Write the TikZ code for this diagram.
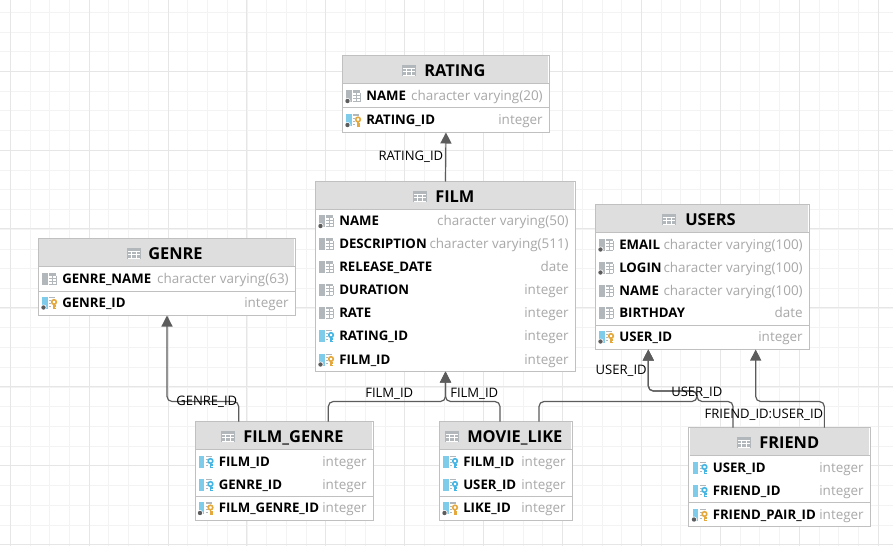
\documentclass[tikz,border=0pt]{standalone}
\usepackage{fontspec}
\setmainfont{Open Sans}
\usetikzlibrary{arrows.meta}
\def\px{0.75pt}
\definecolor{gridminor}{HTML}{F3F3F3}
\definecolor{gridmajor}{HTML}{E6E6E6}
\definecolor{boxline}{HTML}{C0C0C0}
\definecolor{headfill}{HTML}{DEDEDE}
\definecolor{linkline}{HTML}{5C5C5C}
\definecolor{typetext}{HTML}{A8A8A8}
\definecolor{iconbar}{HTML}{B2B7BC}
\definecolor{keyblue}{HTML}{45B5E3}
\definecolor{barblue}{HTML}{7FCBEA}
\definecolor{keyorange}{HTML}{E5A83C}
\tikzset{
  tablebox/.style={draw=boxline, line width=1*\px, fill=white, anchor=north west, inner sep=0pt, outer sep=0pt},
  headbox/.style={fill=headfill, anchor=north west, inner sep=0pt, outer sep=0pt},
  rowsep/.style={draw=boxline, line width=1*\px},
  title/.style={font=\fontsize{12.3}{14}\selectfont\bfseries, anchor=west, inner sep=0pt, text height=9*\px, text depth=0pt},
  colname/.style={font=\fontsize{9.9}{12}\selectfont\bfseries, anchor=west, inner sep=0pt, text height=9*\px, text depth=0pt},
  coltype/.style={font=\fontsize{10.1}{12}\selectfont, text=typetext, anchor=east, inner sep=0pt, text height=9*\px, text depth=0pt},
  linklabel/.style={font=\fontsize{9.8}{11}\selectfont, inner sep=0pt, text height=8.5*\px, text depth=0pt},
  fklink/.style={draw=linkline, line width=1.2*\px, rounded corners=5*\px, -{Triangle[width=11*\px,length=11*\px]}},
  pics/tableicon/.style={code={
    \fill[iconbar] (0,-5.5) rectangle (14,5.5);
    \foreach \gx in {4.5,9.5} \draw[white, line width=0.8*\px] (\gx,-2) -- (\gx,5);
    \foreach \gy in {-2,1.5} \draw[white, line width=0.8*\px] (0.7,\gy) -- (13.3,\gy);
    \fill[white] (0.7,4.6) rectangle (13.3,5);
  }},
  pics/colplain/.style={code={
    \fill[iconbar] (0,-6) rectangle (6,6);
    \fill[iconbar] (7,-6) rectangle (14,-3.5);
    \foreach \gy in {-1,2,5.5} \draw[iconbar, line width=0.8*\px] (7,\gy) -- (14,\gy);
    \draw[iconbar, line width=0.8*\px] (10.5,-3.5) -- (10.5,5.5) (14,-3.5) -- (14,5.5);
  }},
  pics/coldot/.style={code={
    \pic {colplain};
    \fill[white] (1.5,5) circle[radius=3];
    \fill[linkline] (1.5,5) circle[radius=2.2];
  }},
  pics/keyshape/.style={code={
    \fill[iconbar] (7,-6) rectangle (13,-4.5);
    \foreach \gy in {-2,1,4} \draw[iconbar, line width=0.8*\px] (7,\gy) -- (9,\gy);
    \draw[#1, line width=1.6*\px] (12,-0.5) circle[radius=2.3];
    \draw[#1, line width=1.7*\px] (12,1.8) -- (12,6.5) (12,3.8) -- (14,3.8) (12,6) -- (14,6);
  }},
  pics/fkey/.style={code={
    \fill[barblue] (0,-6) rectangle (5.5,6);
    \pic {keyshape=keyblue};
  }},
  pics/pkey/.style={code={
    \fill[barblue] (0,-6) rectangle (5.5,6);
    \pic {keyshape=keyorange};
    \fill[white] (1.5,5) circle[radius=3];
    \fill[linkline] (1.5,5) circle[radius=2.2];
  }},
}
\begin{document}
\begin{tikzpicture}[x=0.75pt,y=-0.75pt]
\useasboundingbox (0,0) rectangle (893,546);
\fill[white] (0,0) rectangle (893,546);

% grid
\foreach \k in {0,...,44} {
  \draw[gridminor, line width=1*\px] ({floor(10.3+19.725*\k)+0.5},0) -- ({floor(10.3+19.725*\k)+0.5},546);
}
\foreach \k in {0,...,27} {
  \draw[gridminor, line width=1*\px] (0,{floor(12.3+19.725*\k)+0.5}) -- (893,{floor(12.3+19.725*\k)+0.5});
}
\foreach \k in {0,...,11} {
  \draw[gridmajor, line width=1*\px] ({floor(10.3+78.9*\k)+0.5},0) -- ({floor(10.3+78.9*\k)+0.5},546);
}
\foreach \k in {0,...,6} {
  \draw[gridmajor, line width=1*\px] (0,{floor(71.2+78.9*\k)+0.5}) -- (893,{floor(71.2+78.9*\k)+0.5});
}

% tables
\node (rating) [tablebox, minimum width=207*\px, minimum height=77*\px] at (342.5,55.5) {};
\node (film) [tablebox, minimum width=260*\px, minimum height=190*\px] at (315.5,181.5) {};
\node (users) [tablebox, minimum width=214*\px, minimum height=145*\px] at (595.5,204.5) {};
\node (genre) [tablebox, minimum width=257*\px, minimum height=77*\px] at (38.5,238.5) {};
\node (filmgenre) [tablebox, minimum width=178*\px, minimum height=99*\px] at (195,421.5) {};
\node (movielike) [tablebox, minimum width=133*\px, minimum height=99*\px] at (439.5,421.5) {};
\node (friend) [tablebox, minimum width=181.5*\px, minimum height=98.5*\px] at (688.8,427.5) {};

% headers
\foreach \tab/\hx/\hy/\hw/\ix/\tx/\ttl in {
  rating/343/56/205/402/424/RATING,
  film/316/182/258/413/435/FILM,
  users/596/205/212/662/685/USERS,
  genre/39/239/255/127/148/GENRE,
  filmgenre/195.5/422/176.5/221/243/FILM\_GENRE,
  movielike/440/422/131/445/467/MOVIE\_LIKE,
  friend/689.5/428/179.5/737/759/FRIEND} {
  \node (\tab head) [headbox, minimum width=\hw*\px, minimum height=27*\px] at (\hx,\hy) {};
  \draw[rowsep] (\hx,\hy+27.5) -- (\hx+\hw+1,\hy+27.5);
  \pic at (\ix,\hy+14) {tableicon};
  \node (\tab title) [title] at (\tx,\hy+15.5) {\ttl};
}

% separators
\draw[rowsep] (342.5,107.5) -- (549.5,107.5);
\draw[rowsep] (595.5,325.5) -- (809.5,325.5);
\draw[rowsep] (38.5,291.5) -- (295.5,291.5);
\draw[rowsep] (195,496.5) -- (373,496.5);
\draw[rowsep] (439.5,496.5) -- (572.5,496.5);
\draw[rowsep] (688.8,502.5) -- (870.3,502.5);

% rows
\foreach \tab/\lx/\rx/\ry/\icon/\nm/\ty in {
  rating/346/543/96/coldot/NAME/character varying(20),
  rating/346/543/120/pkey/RATING\_ID/integer,
  film/319/569/221/coldot/NAME/character varying(50),
  film/319/569/244/colplain/DESCRIPTION/character varying(511),
  film/319/569/267/colplain/RELEASE\_DATE/date,
  film/319/569/289.5/colplain/DURATION/integer,
  film/319/569/312.5/colplain/RATE/integer,
  film/319/569/335.5/fkey/RATING\_ID/integer,
  film/319/569/359.5/pkey/FILM\_ID/integer,
  users/599/803/244.5/coldot/EMAIL/character varying(100),
  users/599/803/267.5/coldot/LOGIN/character varying(100),
  users/599/803/290.5/colplain/NAME/character varying(100),
  users/599/803/312.5/colplain/BIRTHDAY/date,
  users/599/803/336.5/pkey/USER\_ID/integer,
  genre/42/289/279/colplain/GENRE\_NAME/character varying(63),
  genre/42/289/302.5/pkey/GENRE\_ID/integer,
  filmgenre/198.5/367/461.5/fkey/FILM\_ID/integer,
  filmgenre/198.5/367/484.5/fkey/GENRE\_ID/integer,
  filmgenre/198.5/367/508/pkey/FILM\_GENRE\_ID/integer,
  movielike/443/566/461.5/fkey/FILM\_ID/integer,
  movielike/443/566/484.5/fkey/USER\_ID/integer,
  movielike/443/566/508/pkey/LIKE\_ID/integer,
  friend/692.5/864/467.5/fkey/USER\_ID/integer,
  friend/692.5/864/490.5/fkey/FRIEND\_ID/integer,
  friend/692.5/864/514.5/pkey/FRIEND\_PAIR\_ID/integer} {
  \pic at (\lx,\ry) {\icon};
  \node (\tab name\ry) [colname] at (\lx+20,\ry) {\nm};
  \node (\tab type\ry) [coltype] at (\rx,\ry) {\ty};
}

% connectors
\coordinate (userjoin) at (697,391);
\draw[fklink] (film.north) -- (rating.south);
\draw[fklink] ([xshift=-45.3*\px]filmgenre.north) -- ++(0,-20) -| (genre.south);
\draw[fklink] ([xshift=44.3*\px]filmgenre.north) -- ++(0,-20) -| (film.south);
\draw[fklink] ([xshift=-6*\px]movielike.north) -- ++(0,-20) -| (film.south);
\draw[fklink] ([xshift=33*\px]movielike.north) -- ++(0,-20) -| (userjoin) -| ([xshift=-54.2*\px]users.south);
\draw[fklink] ([xshift=-46.5*\px]friend.north) -- ++(0,-26) -| (userjoin) -| ([xshift=-54.2*\px]users.south);
\draw[fklink] ([xshift=44.8*\px]friend.north) -- ++(0,-26) -| ([xshift=53.2*\px]users.south);

% labels
\node (ratinglabel) [linklabel, anchor=east] at (443.5,156.5) {RATING\_ID};
\node (genrelabel) [linklabel, anchor=west] at (176,401.5) {GENRE\_ID};
\node (filmlabela) [linklabel, anchor=west] at (365,393) {FILM\_ID};
\node (filmlabelb) [linklabel, anchor=west] at (450,393) {FILM\_ID};
\node (userlabela) [linklabel, anchor=east] at (647,370.5) {USER\_ID};
\node (userlabelb) [linklabel, anchor=west] at (671,392) {USER\_ID};
\node (friendlabel) [linklabel, anchor=east] at (823.5,414.5) {FRIEND\_ID:USER\_ID};
\end{tikzpicture}
\end{document}
